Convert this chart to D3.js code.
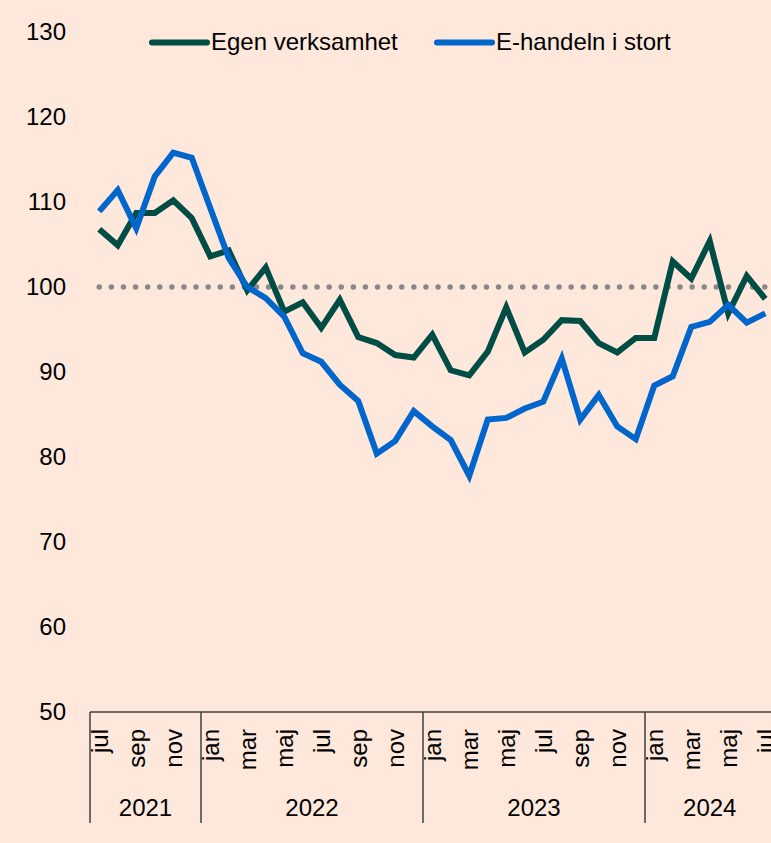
<!DOCTYPE html>
<html>
<head>
<meta charset="utf-8">
<script src="https://cdn.jsdelivr.net/npm/d3@7"></script>
<style>
  html, body { margin: 0; padding: 0; background: #fee8dc; }
  svg { display: block; font-family: "Liberation Sans", Arial, sans-serif; }
</style>
</head>
<body>
<svg id="chart"></svg>
<script>
// months jul 2021 .. jul 2024
const months = ['jul','aug','sep','okt','nov','dec',
  'jan','feb','mar','apr','maj','jun','jul','aug','sep','okt','nov','dec',
  'jan','feb','mar','apr','maj','jun','jul','aug','sep','okt','nov','dec',
  'jan','feb','mar','apr','maj','jun','jul']
const years = [
  {label: '2021', from: 0, to: 6},
  {label: '2022', from: 6, to: 18},
  {label: '2023', from: 18, to: 30},
  {label: '2024', from: 30, to: 37}
]
const egen = [106.8, 104.9, 108.7, 108.7, 110.2, 108.1,
  103.6, 104.3, 99.6, 102.3, 97.1, 98.2, 95.2, 98.5, 94.1, 93.4, 92.0, 91.7,
  94.4, 90.2, 89.6, 92.4, 97.6, 92.3, 93.8, 96.1, 96.0, 93.4, 92.3, 94.0,
  94.0, 103.0, 101.0, 105.4, 96.9, 101.3, 98.6]
const ehandel = [108.9, 111.4, 106.9, 113.0, 115.8, 115.2,
  109.3, 103.4, 100.0, 98.7, 96.5, 92.2, 91.2, 88.5, 86.6, 80.4, 81.9, 85.4,
  83.6, 82.0, 77.8, 84.4, 84.6, 85.7, 86.5, 91.6, 84.4, 87.3, 83.6, 82.1,
  88.4, 89.5, 95.3, 95.9, 97.9, 95.8, 96.9]
const yTicks = [50, 60, 70, 80, 90, 100, 110, 120, 130]
const series = [
  {name: 'Egen verksamhet', values: egen, color: '#004d45'},
  {name: 'E-handeln i stort', values: ehandel, color: '#0066cc'}
]

const W = 771, H = 843
const svg = d3.select('#chart').attr('width', W).attr('height', H)

const x = d3.scaleBand()
    .domain(d3.range(months.length))
    .range([90, 774.5])
const y = d3.scaleLinear()
    .domain([50, 130])
    .range([712, 32])

const cx = i => x(i) + x.bandwidth() / 2

// y labels
svg.append('g')
  .selectAll('text')
  .data(yTicks)
  .join('text')
    .attr('x', 66)
    .attr('y', d => y(d))
    .attr('dy', '0.35em')
    .attr('text-anchor', 'end')
    .attr('font-size', 24)
    .text(d => d)

// reference line at 100
svg.append('line')
    .attr('x1', cx(0))
    .attr('x2', W)
    .attr('y1', y(100))
    .attr('y2', y(100))
    .attr('stroke', '#888')
    .attr('stroke-width', 5.5)
    .attr('stroke-linecap', 'round')
    .attr('stroke-dasharray', '0 12.1')

// x axis
const axis = svg.append('g').attr('stroke', '#404040').attr('stroke-width', 1.5)
axis.append('line')
    .attr('x1', 90).attr('x2', W)
    .attr('y1', y(50)).attr('y2', y(50))
axis.selectAll('.sep')
  .data(years)
  .join('line')
    .attr('x1', d => x(d.from)).attr('x2', d => x(d.from))
    .attr('y1', y(50)).attr('y2', 823)

svg.append('g')
  .selectAll('text')
  .data(months.map((m, i) => ({m, i})).filter(d => d.i % 2 === 0))
  .join('text')
    .attr('transform', d => `translate(${cx(d.i)},729) rotate(-90)`)
    .attr('dy', '0.35em')
    .attr('text-anchor', 'end')
    .attr('font-size', 24)
    .text(d => d.m)

svg.append('g')
  .selectAll('text')
  .data(years)
  .join('text')
    .attr('x', d => (x(d.from) + (d.to < months.length ? x(d.to) : 774.5)) / 2)
    .attr('y', 816)
    .attr('text-anchor', 'middle')
    .attr('font-size', 24)
    .text(d => d.label)

// lines
const line = d3.line()
    .x((d, i) => cx(i))
    .y(d => y(d))

svg.append('g')
  .selectAll('path')
  .data(series)
  .join('path')
    .attr('d', d => line(d.values))
    .attr('fill', 'none')
    .attr('stroke', d => d.color)
    .attr('stroke-width', 6)
    .attr('stroke-linejoin', 'miter')

// legend
const legendX = [152, 437]
const lg = svg.append('g')
  .selectAll('g')
  .data(series)
  .join('g')
    .attr('transform', (d, i) => `translate(${legendX[i]},42.5)`)
lg.append('line')
    .attr('x1', 0).attr('x2', 55)
    .attr('stroke', d => d.color)
    .attr('stroke-width', 6)
    .attr('stroke-linecap', 'round')
lg.append('text')
    .attr('x', 59)
    .attr('y', 7.5)
    .attr('font-size', 24)
    .text(d => d.name)
</script>
</body>
</html>
